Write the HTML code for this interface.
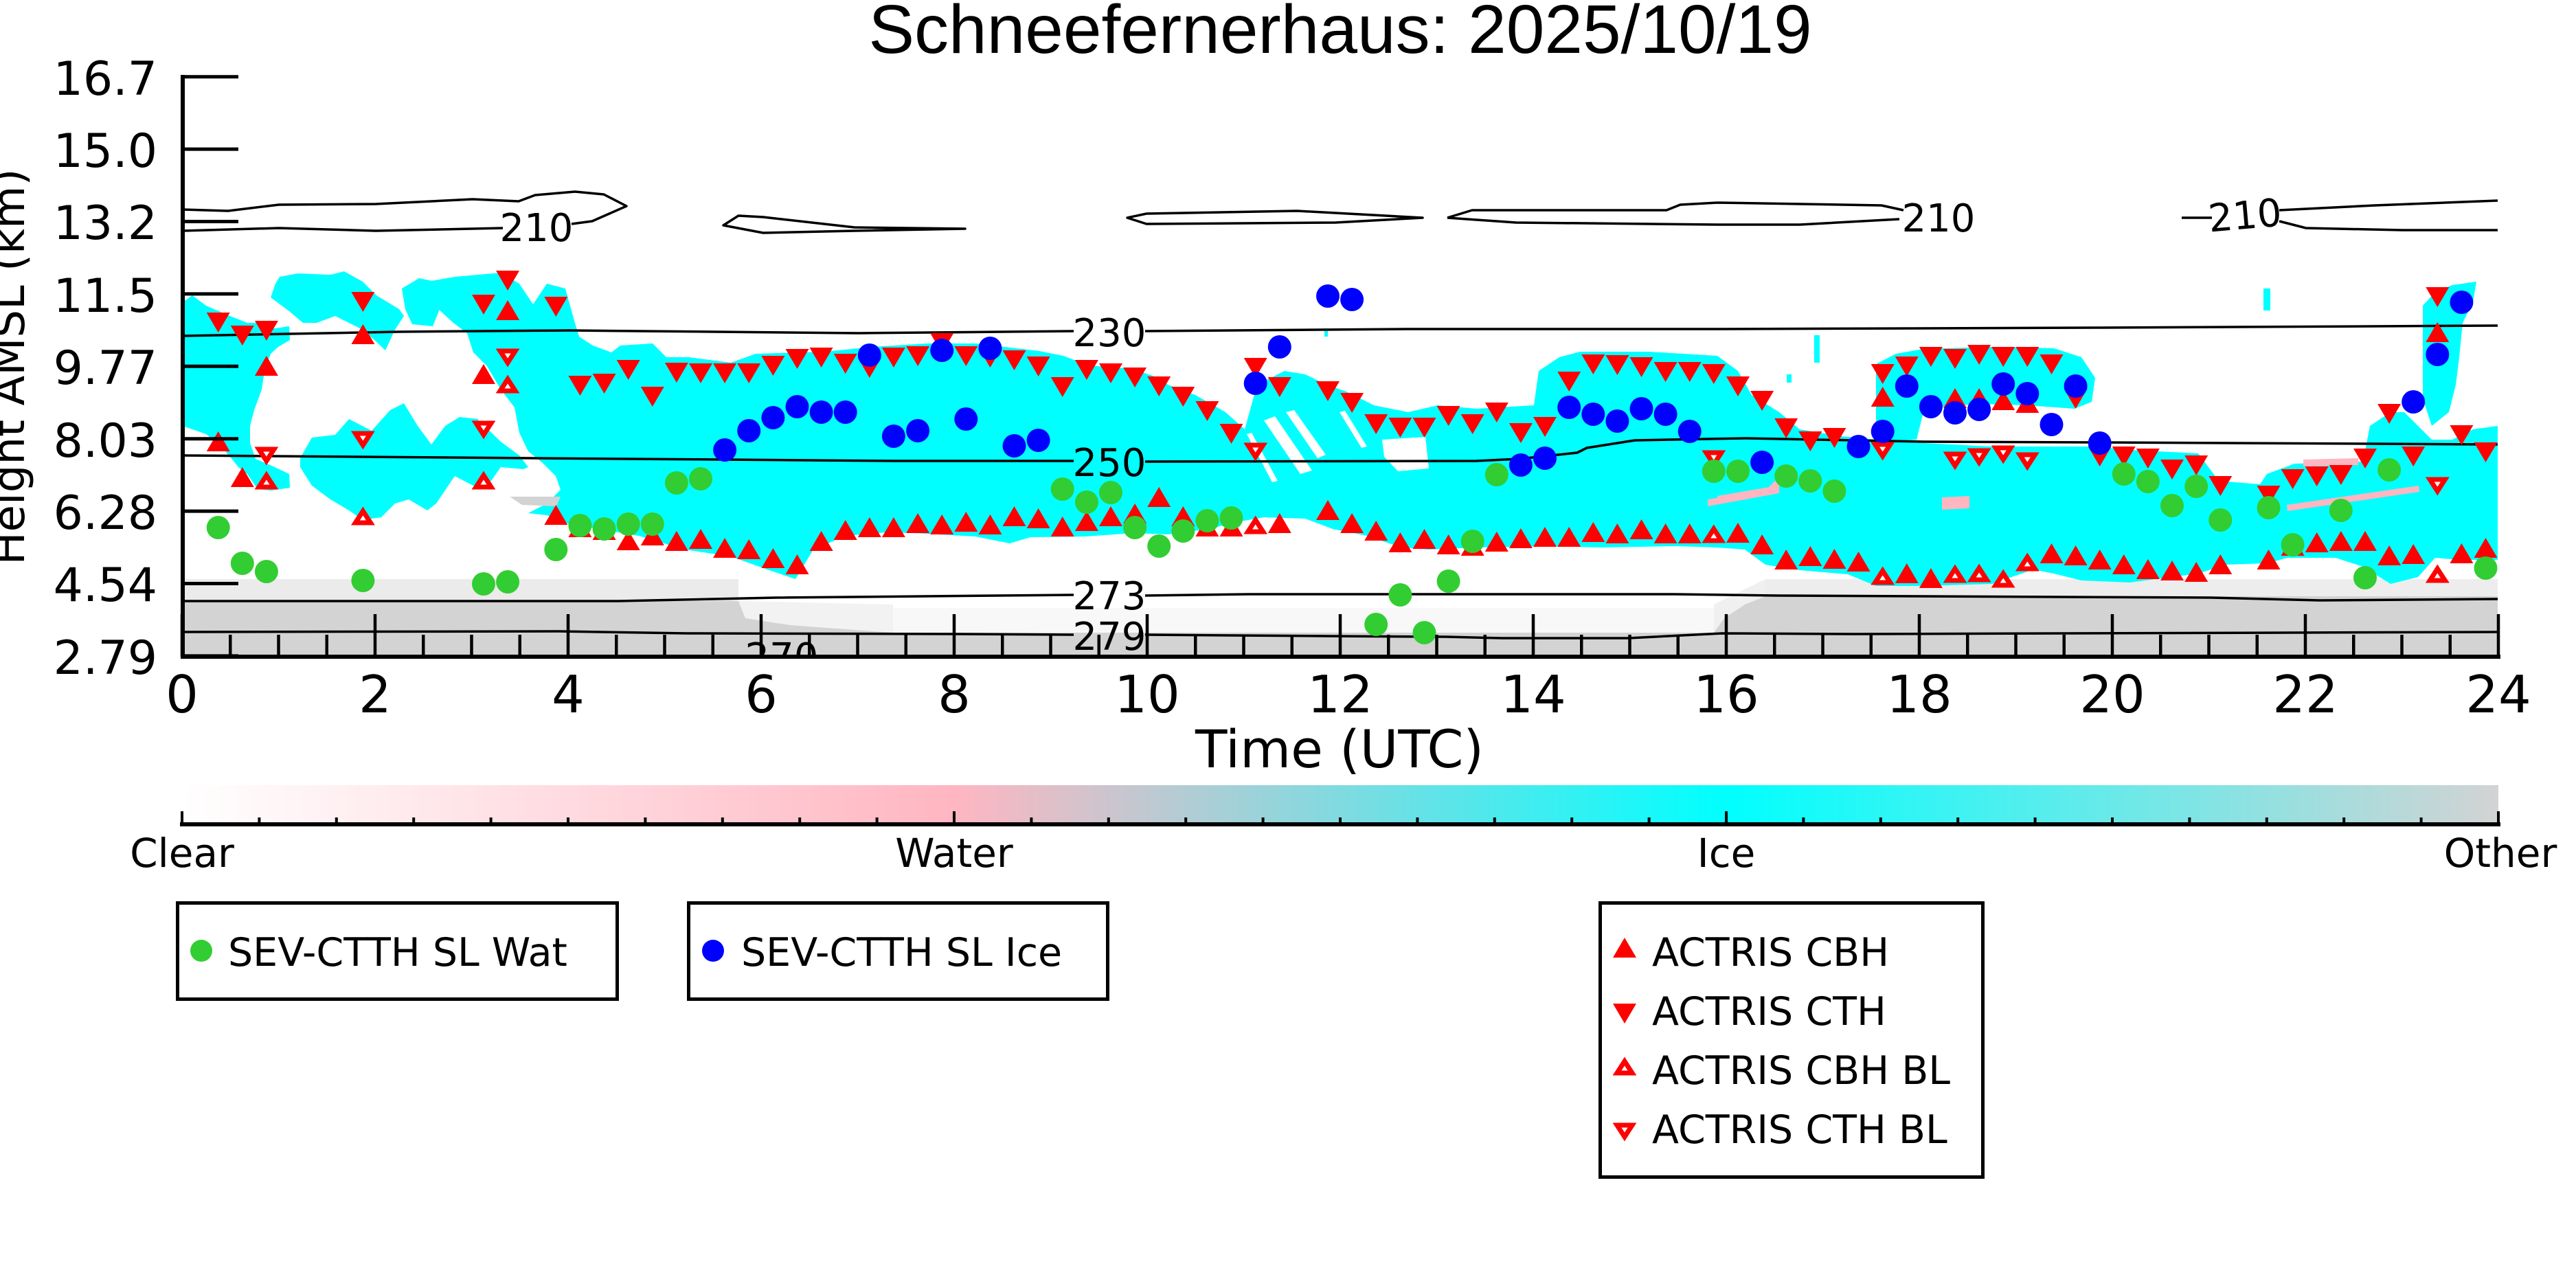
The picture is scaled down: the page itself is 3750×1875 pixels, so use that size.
<!DOCTYPE html>
<html><head><meta charset="utf-8">
<style>html,body{margin:0;padding:0;background:#fff}svg{display:block}</style>
</head><body>
<svg width="3750" height="1875" viewBox="0 0 3750 1875" xmlns="http://www.w3.org/2000/svg">
<defs>
<clipPath id="pc"><rect x="266" y="60" width="3371" height="896"/></clipPath>
<linearGradient id="cb" x1="0" x2="1" y1="0" y2="0">
<stop offset="0" stop-color="#ffffff"/><stop offset="0.3333" stop-color="#ffb6c1"/><stop offset="0.6667" stop-color="#00ffff"/><stop offset="1" stop-color="#d3d3d3"/>
</linearGradient>
<path id="tu" d="M0,-15L17,14L-17,14Z" fill="#ff0000"/>
<path id="td" d="M0,15L17,-14L-17,-14Z" fill="#ff0000"/>
<path id="tuo" d="M0,-8L11,9L-11,9Z" fill="#ffffff" stroke="#ff0000" stroke-width="7"/>
<path id="tdo" d="M0,8L11,-9L-11,-9Z" fill="#ffffff" stroke="#ff0000" stroke-width="7"/>
<circle id="cg" r="17" fill="#32cd32"/>
<circle id="cbl" r="17" fill="#0000ff"/>
</defs>

<rect width="3750" height="1875" fill="#fff"/>

<text x="1951" y="77" font-family="Liberation Sans, Arial, sans-serif" font-size="100" text-anchor="middle">Schneefernerhaus: 2025/10/19</text>

<g clip-path="url(#pc)">
<!-- gray ground clutter -->
<path d="M266,875 L1075,875 L1085,900 L1150,910 L1300,921 L2495,921 L2510,900 L2540,880 L2570,868 L3636,868 L3636,956 L266,956 Z" fill="#d3d3d3"/>
<rect x="266" y="843" width="809" height="32" fill="#d3d3d3" opacity="0.45"/>
<path d="M1075,875 L1300,880 L1300,921 L1150,910 L1085,900 Z" fill="#d3d3d3" opacity="0.3"/>
<rect x="1300" y="885" width="1195" height="36" fill="#d3d3d3" opacity="0.15"/>
<rect x="2570" y="843" width="1066" height="25" fill="#d3d3d3" opacity="0.4"/>
<path d="M2495,880 L2570,843 L2570,868 L2540,880 L2510,900 L2495,921 Z" fill="#d3d3d3" opacity="0.35"/>

<!-- cyan cloud regions -->
<g fill="#00ffff">
<path d="M266,440 L280,430 L300,445 L330,458 L360,470 L380,470 L400,478 L421,475 L422,495 L405,505 L394,515 L385,540 L381,567 L370,597 L364,620 L364,645 L372,668 L400,680 L421,690 L422,710 L395,714 L375,712 L360,690 L347,680 L335,665 L320,648 L300,632 L280,625 L266,620 Z"/>
<path d="M394,433 L401,413 L407,403 L434,398 L481,400 L501,395 L528,410 L548,430 L581,450 L588,460 L575,480 L561,510 L545,495 L528,480 L488,460 L461,470 L441,470 L421,453 Z"/>
<path d="M585,420 L610,405 L635,410 L640,450 L630,475 L600,472 L590,450 Z"/>
<path d="M437,667 L454,637 L488,633 L508,610 L541,627 L568,597 L588,587 L608,620 L628,647 L648,620 L669,607 L695,610 L729,643 L756,663 L769,680 L762,683 L729,680 L715,700 L689,707 L662,693 L635,733 L622,743 L595,727 L575,733 L555,753 L528,757 L508,743 L481,727 L454,707 L437,680 Z"/>
<path d="M622,410 L662,403 L695,400 L729,397 L756,413 L776,443 L796,413 L823,420 L836,467 L843,490 L863,503 L890,513 L903,503 L950,500 L970,520 L1003,520 L1064,528 L1100,515 L1200,512 L1270,505 L1350,500 L1420,500 L1513,511 L1548,518 L1585,532 L1649,537 L1689,551 L1700,560 L1740,575 L1784,600 L1812,625 L1830,560 L1870,540 L1900,545 L1931,560 L1960,570 L2000,590 L2050,600 L2093,590 L2150,595 L2233,590 L2240,540 L2270,520 L2300,512 L2400,512 L2500,518 L2530,540 L2550,575 L2590,600 L2620,625 L2680,635 L2731,640 L2800,645 L2900,650 L3050,650 L3100,655 L3200,660 L3230,700 L3290,705 L3300,690 L3340,675 L3440,672 L3450,620 L3480,600 L3500,600 L3520,620 L3540,640 L3570,640 L3600,625 L3636,620 L3636,815 L3580,815 L3545,812 L3520,840 L3480,850 L3440,825 L3400,812 L3330,812 L3300,820 L3240,822 L3200,835 L3100,848 L3030,845 L2990,835 L2960,829 L2900,850 L2800,853 L2731,853 L2690,836 L2620,830 L2570,822 L2540,800 L2500,797 L2440,795 L2330,797 L2250,795 L2150,797 L2080,800 L2040,797 L1990,780 L1940,770 L1900,755 L1840,753 L1800,760 L1760,770 L1700,778 L1650,776 L1580,781 L1500,782 L1470,791 L1420,781 L1330,776 L1290,775 L1231,780 L1184,800 L1158,843 L1111,827 L1064,810 L997,800 L930,780 L829,763 L796,750 L769,747 L796,733 L816,713 L809,693 L789,673 L769,657 L756,630 L749,593 L729,567 L709,533 L689,513 L680,485 L660,470 L635,447 Z"/>
<path d="M2731,530 L2760,515 L2800,508 L2900,505 L2990,507 L3030,520 L3050,550 L3045,585 L3020,595 L2950,590 L2880,588 L2830,592 L2800,600 L2790,640 L2731,645 Z"/>
<path d="M3527,445 L3545,425 L3570,415 L3605,410 L3600,440 L3585,470 L3580,520 L3575,560 L3565,600 L3540,620 L3527,580 Z"/>
<rect x="3295" y="420" width="10" height="32"/>
<rect x="2641" y="488" width="8" height="40"/>
<rect x="2601" y="545" width="7" height="12"/>
<rect x="1928" y="478" width="5" height="12"/>
</g>
<!-- white gaps -->
<g fill="#fff">
<path d="M1840,612 L1856,606 L1910,685 L1893,690 Z"/>
<path d="M1872,600 L1884,597 L1930,662 L1918,667 Z"/>
<path d="M1815,632 L1822,630 L1860,700 L1852,702 Z"/>
<path d="M1950,600 L1958,598 L1990,650 L1982,652 Z"/>
<path d="M2012,640 L2075,636 L2080,682 L2035,686 L2015,665 Z"/>
</g>
<!-- pink patches -->
<g fill="#ffb6c1">
<path d="M2500,722 L2588,707 L2590,716 L2500,731 Z"/>
<path d="M2486,727 L2570,714 L2584,700 L2590,700 L2590,718 L2486,737 Z"/>
<path d="M3329,735 L3521,707 L3522,716 L3330,744 Z"/>
<path d="M2827,724 L2867,722 L2867,740 L2827,742 Z"/>
<path d="M3353,669 L3433,667 L3433,677 L3353,679 Z"/>
</g>
<path d="M742,723 L816,723 L810,737 L760,735 Z" fill="#d3d3d3"/>

<!-- contours -->
<g fill="none" stroke="#000" stroke-width="3.5" stroke-linejoin="round">
<path d="M266,305 L332,307 L406,298 L547,297 L688,290 L755,293 L779,284 L837,279 L879,283 L912,300 L862,322 L832,326"/>
<path d="M732,332 L547,336 L406,332 L266,336"/>
<path d="M1053,328 L1075,314 L1111,316 L1244,331 L1405,333 L1244,336 L1111,339 Z"/>
<path d="M1641,317 L1669,311 L1888,307 L2071,317 L1944,324 L1669,326 Z"/>
<path d="M2107,317 L2143,306 L2426,306 L2446,298 L2500,295 L2739,299 L2771,306"/>
<path d="M2107,317 L2207,324 L2500,327 L2620,327 L2765,319"/>
<path d="M3176,317 L3220,317"/>
<path d="M3318,306 L3457,299 L3636,292"/>
<path d="M3318,322 L3357,332 L3497,335 L3636,335"/>
<path d="M266,489 L580,483 L829,481 L1250,485 L1563,482"/>
<path d="M1667,482 L2047,479 L2500,479 L3058,477 L3636,474"/>
<path d="M266,663 L1300,671 L1563,671"/>
<path d="M1667,672 L2149,671 L2212,668 L2296,659 L2310,652 L2380,641 L2542,638 L2800,643 L3058,644 L3636,647"/>
<path d="M266,875 L900,875 L1130,870 L1563,866"/>
<path d="M1667,867 L1818,865 L2438,865 L2588,867 L3218,870 L3377,874 L3636,872"/>
<path d="M266,920 L813,919 L1000,922 L1400,923 L1563,924"/>
<path d="M1667,924 L1935,926 L2105,927 L2187,929 L2370,929 L2507,922 L2700,923 L3636,920"/>
</g>
<g font-family="DejaVu Sans, sans-serif" font-size="56" text-anchor="middle" fill="#000">
<text x="781" y="351">210</text>
<text x="2822" y="337">210</text>
<text x="3268" y="333" transform="rotate(-5 3268 313)">210</text>
<text x="1615" y="504">230</text>
<text x="1615" y="693">250</text>
<text x="1615" y="887">273</text>
<text x="1615" y="946">279</text>
<text x="1138" y="976">270</text>
</g>
</g>

<!-- ACTRIS CTH -->
<g>
<use href="#td" x="317.7" y="469"/><use href="#td" x="352.8" y="488"/><use href="#td" x="387.9" y="481"/><use href="#td" x="528.4" y="439"/><use href="#td" x="704.0" y="443"/><use href="#td" x="739.1" y="408"/><use href="#td" x="809.3" y="446"/><use href="#td" x="844.4" y="561"/><use href="#td" x="879.6" y="558"/><use href="#td" x="914.7" y="538"/><use href="#td" x="949.8" y="577"/><use href="#td" x="984.9" y="542"/><use href="#td" x="1020.0" y="543"/><use href="#td" x="1055.1" y="543"/><use href="#td" x="1090.2" y="543"/><use href="#td" x="1125.4" y="532"/><use href="#td" x="1160.5" y="522"/><use href="#td" x="1195.6" y="520"/><use href="#td" x="1230.7" y="529"/><use href="#td" x="1265.8" y="535"/><use href="#td" x="1300.9" y="520"/><use href="#td" x="1336.1" y="518"/><use href="#td" x="1371.2" y="499"/><use href="#td" x="1406.3" y="518"/><use href="#td" x="1441.4" y="520"/><use href="#td" x="1476.5" y="524"/><use href="#td" x="1511.6" y="533"/><use href="#td" x="1546.7" y="563"/><use href="#td" x="1581.9" y="538"/><use href="#td" x="1617.0" y="543"/><use href="#td" x="1652.1" y="549"/><use href="#td" x="1687.2" y="562"/><use href="#td" x="1722.3" y="577"/><use href="#td" x="1757.4" y="598"/><use href="#td" x="1792.5" y="631"/><use href="#td" x="1827.7" y="535"/><use href="#td" x="1862.8" y="563"/><use href="#td" x="1933.0" y="569"/><use href="#td" x="1968.1" y="586"/><use href="#td" x="2003.2" y="617"/><use href="#td" x="2038.4" y="622"/><use href="#td" x="2073.5" y="622"/><use href="#td" x="2108.6" y="605"/><use href="#td" x="2143.7" y="617"/><use href="#td" x="2178.8" y="600"/><use href="#td" x="2213.9" y="630"/><use href="#td" x="2249.0" y="621"/><use href="#td" x="2284.2" y="555"/><use href="#td" x="2319.3" y="530"/><use href="#td" x="2354.4" y="531"/><use href="#td" x="2389.5" y="534"/><use href="#td" x="2424.6" y="541"/><use href="#td" x="2459.7" y="541"/><use href="#td" x="2494.8" y="544"/><use href="#td" x="2530.0" y="562"/><use href="#td" x="2565.1" y="583"/><use href="#td" x="2600.2" y="623"/><use href="#td" x="2635.3" y="642"/><use href="#td" x="2670.4" y="637"/><use href="#td" x="2740.7" y="544"/><use href="#td" x="2775.8" y="533"/><use href="#td" x="2810.9" y="519"/><use href="#td" x="2846.0" y="522"/><use href="#td" x="2881.1" y="516"/><use href="#td" x="2916.2" y="519"/><use href="#td" x="2951.3" y="519"/><use href="#td" x="2986.5" y="530"/><use href="#td" x="3021.6" y="580"/><use href="#td" x="3056.7" y="664"/><use href="#td" x="3091.8" y="664"/><use href="#td" x="3126.9" y="667"/><use href="#td" x="3162.0" y="683"/><use href="#td" x="3197.2" y="677"/><use href="#td" x="3232.3" y="707"/><use href="#td" x="3302.5" y="721"/><use href="#td" x="3337.6" y="697"/><use href="#td" x="3372.7" y="693"/><use href="#td" x="3407.8" y="691"/><use href="#td" x="3443.0" y="667"/><use href="#td" x="3478.1" y="602"/><use href="#td" x="3513.2" y="664"/><use href="#td" x="3548.3" y="432"/><use href="#td" x="3583.4" y="633"/><use href="#td" x="3618.5" y="658"/>
</g>
<!-- ACTRIS CBH -->
<g>
<use href="#tu" x="317.7" y="643"/><use href="#tu" x="352.8" y="695"/><use href="#tu" x="387.9" y="533"/><use href="#tu" x="528.4" y="487"/><use href="#tu" x="704.0" y="545"/><use href="#tu" x="739.1" y="452"/><use href="#tu" x="809.3" y="750"/><use href="#tu" x="844.4" y="768"/><use href="#tu" x="879.6" y="772"/><use href="#tu" x="914.7" y="787"/><use href="#tu" x="949.8" y="780"/><use href="#tu" x="984.9" y="788"/><use href="#tu" x="1020.0" y="785"/><use href="#tu" x="1055.1" y="798"/><use href="#tu" x="1090.2" y="800"/><use href="#tu" x="1125.4" y="813"/><use href="#tu" x="1160.5" y="822"/><use href="#tu" x="1195.6" y="788"/><use href="#tu" x="1230.7" y="772"/><use href="#tu" x="1265.8" y="768"/><use href="#tu" x="1300.9" y="768"/><use href="#tu" x="1336.1" y="762"/><use href="#tu" x="1371.2" y="764"/><use href="#tu" x="1406.3" y="760"/><use href="#tu" x="1441.4" y="764"/><use href="#tu" x="1476.5" y="752"/><use href="#tu" x="1511.6" y="755"/><use href="#tu" x="1546.7" y="767"/><use href="#tu" x="1581.9" y="759"/><use href="#tu" x="1617.0" y="752"/><use href="#tu" x="1652.1" y="748"/><use href="#tu" x="1687.2" y="724"/><use href="#tu" x="1722.3" y="752"/><use href="#tu" x="1757.4" y="767"/><use href="#tu" x="1792.5" y="767"/><use href="#tu" x="1862.8" y="762"/><use href="#tu" x="1933.0" y="743"/><use href="#tu" x="1968.1" y="762"/><use href="#tu" x="2003.2" y="773"/><use href="#tu" x="2038.4" y="790"/><use href="#tu" x="2073.5" y="785"/><use href="#tu" x="2108.6" y="793"/><use href="#tu" x="2143.7" y="795"/><use href="#tu" x="2178.8" y="789"/><use href="#tu" x="2213.9" y="784"/><use href="#tu" x="2249.0" y="782"/><use href="#tu" x="2284.2" y="782"/><use href="#tu" x="2319.3" y="775"/><use href="#tu" x="2354.4" y="777"/><use href="#tu" x="2389.5" y="771"/><use href="#tu" x="2424.6" y="777"/><use href="#tu" x="2459.7" y="777"/><use href="#tu" x="2530.0" y="776"/><use href="#tu" x="2565.1" y="793"/><use href="#tu" x="2600.2" y="815"/><use href="#tu" x="2635.3" y="810"/><use href="#tu" x="2670.4" y="814"/><use href="#tu" x="2705.5" y="818"/><use href="#tu" x="2740.7" y="578"/><use href="#tu" x="2775.8" y="835"/><use href="#tu" x="2810.9" y="842"/><use href="#tu" x="2846.0" y="580"/><use href="#tu" x="2881.1" y="580"/><use href="#tu" x="2916.2" y="583"/><use href="#tu" x="2951.3" y="587"/><use href="#tu" x="2986.5" y="806"/><use href="#tu" x="3021.6" y="809"/><use href="#tu" x="3056.7" y="815"/><use href="#tu" x="3091.8" y="822"/><use href="#tu" x="3126.9" y="829"/><use href="#tu" x="3162.0" y="831"/><use href="#tu" x="3197.2" y="833"/><use href="#tu" x="3232.3" y="822"/><use href="#tu" x="3302.5" y="815"/><use href="#tu" x="3337.6" y="795"/><use href="#tu" x="3372.7" y="790"/><use href="#tu" x="3407.8" y="788"/><use href="#tu" x="3443.0" y="788"/><use href="#tu" x="3478.1" y="809"/><use href="#tu" x="3513.2" y="807"/><use href="#tu" x="3548.3" y="484"/><use href="#tu" x="3583.4" y="806"/><use href="#tu" x="3618.5" y="798"/>
</g>
<!-- ACTRIS BL -->
<g>
<use href="#tdo" x="387.9" y="663"/><use href="#tdo" x="528.4" y="640"/><use href="#tdo" x="704.0" y="625"/><use href="#tdo" x="739.1" y="520"/><use href="#tdo" x="1827.7" y="657"/><use href="#tdo" x="2494.8" y="668"/><use href="#tdo" x="2740.7" y="656"/><use href="#tdo" x="2846.0" y="670"/><use href="#tdo" x="2881.1" y="665"/><use href="#tdo" x="2916.2" y="661"/><use href="#tdo" x="2951.3" y="671"/><use href="#tdo" x="3548.3" y="707"/>
<use href="#tuo" x="387.9" y="700"/><use href="#tuo" x="528.4" y="752"/><use href="#tuo" x="704.0" y="700"/><use href="#tuo" x="739.1" y="560"/><use href="#tuo" x="1827.7" y="765"/><use href="#tuo" x="2494.8" y="778"/><use href="#tuo" x="2740.7" y="839"/><use href="#tuo" x="2846.0" y="836"/><use href="#tuo" x="2881.1" y="835"/><use href="#tuo" x="2916.2" y="843"/><use href="#tuo" x="2951.3" y="819"/><use href="#tuo" x="3548.3" y="836"/>
</g>
<!-- SEV water -->
<g>
<use href="#cg" x="317.7" y="768"/><use href="#cg" x="352.8" y="820"/><use href="#cg" x="387.9" y="832"/><use href="#cg" x="528.4" y="845"/><use href="#cg" x="704.0" y="850"/><use href="#cg" x="739.1" y="847"/><use href="#cg" x="809.3" y="800"/><use href="#cg" x="844.4" y="765"/><use href="#cg" x="879.6" y="770"/><use href="#cg" x="914.7" y="763"/><use href="#cg" x="949.8" y="763"/><use href="#cg" x="984.9" y="703"/><use href="#cg" x="1020.0" y="697"/><use href="#cg" x="1546.7" y="712"/><use href="#cg" x="1581.9" y="731"/><use href="#cg" x="1617.0" y="717"/><use href="#cg" x="1652.1" y="768"/><use href="#cg" x="1687.2" y="795"/><use href="#cg" x="1722.3" y="773"/><use href="#cg" x="1757.4" y="758"/><use href="#cg" x="1792.5" y="754"/><use href="#cg" x="2003.2" y="909"/><use href="#cg" x="2038.4" y="866"/><use href="#cg" x="2073.5" y="921"/><use href="#cg" x="2108.6" y="846"/><use href="#cg" x="2143.7" y="788"/><use href="#cg" x="2178.8" y="691"/><use href="#cg" x="2494.8" y="686"/><use href="#cg" x="2530.0" y="686"/><use href="#cg" x="2600.2" y="693"/><use href="#cg" x="2635.3" y="700"/><use href="#cg" x="2670.4" y="715"/><use href="#cg" x="3091.8" y="690"/><use href="#cg" x="3126.9" y="701"/><use href="#cg" x="3162.0" y="736"/><use href="#cg" x="3197.2" y="708"/><use href="#cg" x="3232.3" y="757"/><use href="#cg" x="3302.5" y="739"/><use href="#cg" x="3337.6" y="793"/><use href="#cg" x="3407.8" y="743"/><use href="#cg" x="3443.0" y="841"/><use href="#cg" x="3478.1" y="684"/><use href="#cg" x="3618.5" y="827"/>
</g>
<!-- SEV ice -->
<g>
<use href="#cbl" x="1055.1" y="655"/><use href="#cbl" x="1090.2" y="627"/><use href="#cbl" x="1125.4" y="608"/><use href="#cbl" x="1160.5" y="592"/><use href="#cbl" x="1195.6" y="600"/><use href="#cbl" x="1230.7" y="600"/><use href="#cbl" x="1265.8" y="517"/><use href="#cbl" x="1300.9" y="635"/><use href="#cbl" x="1336.1" y="627"/><use href="#cbl" x="1371.2" y="510"/><use href="#cbl" x="1406.3" y="610"/><use href="#cbl" x="1441.4" y="507"/><use href="#cbl" x="1476.5" y="649"/><use href="#cbl" x="1511.6" y="641"/><use href="#cbl" x="1827.7" y="558"/><use href="#cbl" x="1862.8" y="505"/><use href="#cbl" x="1933.0" y="431"/><use href="#cbl" x="1968.1" y="436"/><use href="#cbl" x="2213.9" y="677"/><use href="#cbl" x="2249.0" y="667"/><use href="#cbl" x="2284.2" y="593"/><use href="#cbl" x="2319.3" y="603"/><use href="#cbl" x="2354.4" y="613"/><use href="#cbl" x="2389.5" y="595"/><use href="#cbl" x="2424.6" y="603"/><use href="#cbl" x="2459.7" y="628"/><use href="#cbl" x="2565.1" y="673"/><use href="#cbl" x="2705.5" y="650"/><use href="#cbl" x="2740.7" y="628"/><use href="#cbl" x="2775.8" y="562"/><use href="#cbl" x="2810.9" y="592"/><use href="#cbl" x="2846.0" y="601"/><use href="#cbl" x="2881.1" y="596"/><use href="#cbl" x="2916.2" y="559"/><use href="#cbl" x="2951.3" y="573"/><use href="#cbl" x="2986.5" y="618"/><use href="#cbl" x="3021.6" y="562"/><use href="#cbl" x="3056.7" y="645"/><use href="#cbl" x="3513.2" y="585"/><use href="#cbl" x="3548.3" y="516"/><use href="#cbl" x="3583.4" y="440"/>
</g>

<!-- axes -->
<g stroke="#000" fill="none">
<line x1="266" y1="109" x2="266" y2="959" stroke-width="6"/>
<line x1="263" y1="956" x2="3640" y2="956" stroke-width="6"/>
<path stroke-width="5" d="M266,111.7H347 M266,217.1H347 M266,322.5H347 M266,427.9H347 M266,533.3H347 M266,638.7H347 M266,744.1H347 M266,849.5H347 M266,954.9H347"/>
<path stroke-width="4.5" d="M265,956V894 M546,956V894 M827,956V894 M1108,956V894 M1389,956V894 M1670,956V894 M1951,956V894 M2232,956V894 M2513,956V894 M2794,956V894 M3075,956V894 M3356,956V894 M3637,956V894"/>
<path stroke-width="4.5" d="M335.25,956V924 M405.5,956V924 M475.75,956V924 M616.25,956V924 M686.5,956V924 M756.75,956V924 M897.25,956V924 M967.5,956V924 M1037.75,956V924 M1178.25,956V924 M1248.5,956V924 M1318.75,956V924 M1459.25,956V924 M1529.5,956V924 M1599.75,956V924 M1740.25,956V924 M1810.5,956V924 M1880.75,956V924 M2021.25,956V924 M2091.5,956V924 M2161.75,956V924 M2302.25,956V924 M2372.5,956V924 M2442.75,956V924 M2583.25,956V924 M2653.5,956V924 M2723.75,956V924 M2864.25,956V924 M2934.5,956V924 M3004.75,956V924 M3145.25,956V924 M3215.5,956V924 M3285.75,956V924 M3426.25,956V924 M3496.5,956V924 M3566.75,956V924"/>
</g>

<g font-family="DejaVu Sans, sans-serif" font-size="68" text-anchor="end" fill="#000">
<text x="229" y="138">16.7</text>
<text x="229" y="243">15.0</text>
<text x="229" y="348">13.2</text>
<text x="229" y="454">11.5</text>
<text x="229" y="559">9.77</text>
<text x="229" y="665">8.03</text>
<text x="229" y="770">6.28</text>
<text x="229" y="875">4.54</text>
<text x="229" y="981">2.79</text>
</g>
<g font-family="DejaVu Sans, sans-serif" font-size="75" text-anchor="middle" fill="#000">
<text x="265" y="1037">0</text><text x="546" y="1037">2</text><text x="827" y="1037">4</text><text x="1108" y="1037">6</text><text x="1389" y="1037">8</text><text x="1670" y="1037">10</text><text x="1951" y="1037">12</text><text x="2232" y="1037">14</text><text x="2513" y="1037">16</text><text x="2794" y="1037">18</text><text x="3075" y="1037">20</text><text x="3356" y="1037">22</text><text x="3637" y="1037">24</text>
</g>
<text x="1950" y="1117" font-family="DejaVu Sans, sans-serif" font-size="76" text-anchor="middle">Time (UTC)</text>
<text transform="translate(35,534) rotate(-90)" font-family="DejaVu Sans, sans-serif" font-size="64" text-anchor="middle">Height AMSL (km)</text>

<!-- colorbar -->
<rect x="265" y="1143" width="3372" height="56" fill="url(#cb)"/>
<line x1="262" y1="1200" x2="3640" y2="1200" stroke="#000" stroke-width="6"/>
<path stroke="#000" stroke-width="4" d="M265,1200V1181 M1389,1200V1181 M2513,1200V1181 M3637,1200V1181 M377.4,1200V1190 M489.8,1200V1190 M602.2,1200V1190 M714.6,1200V1190 M827,1200V1190 M939.4,1200V1190 M1051.8,1200V1190 M1164.2,1200V1190 M1276.6,1200V1190 M1501.4,1200V1190 M1613.8,1200V1190 M1726.2,1200V1190 M1838.6,1200V1190 M1951,1200V1190 M2063.4,1200V1190 M2175.8,1200V1190 M2288.2,1200V1190 M2400.6,1200V1190 M2625.4,1200V1190 M2737.8,1200V1190 M2850.2,1200V1190 M2962.6,1200V1190 M3075,1200V1190 M3187.4,1200V1190 M3299.8,1200V1190 M3412.2,1200V1190 M3524.6,1200V1190"/>
<g font-family="DejaVu Sans, sans-serif" font-size="58" text-anchor="middle" fill="#000">
<text x="265" y="1262">Clear</text><text x="1389" y="1262">Water</text><text x="2513" y="1262">Ice</text><text x="3640" y="1262">Other</text>
</g>

<!-- legends -->
<g font-family="DejaVu Sans, sans-serif" font-size="57" fill="#000">
<rect x="258.5" y="1314.5" width="640" height="140" fill="#fff" stroke="#000" stroke-width="5"/>
<circle cx="293" cy="1384" r="16" fill="#32cd32"/>
<text x="332" y="1406">SEV-CTTH SL Wat</text>
<rect x="1002.5" y="1314.5" width="610" height="140" fill="#fff" stroke="#000" stroke-width="5"/>
<circle cx="1038" cy="1384" r="16" fill="#0000ff"/>
<text x="1079" y="1406">SEV-CTTH SL Ice</text>
<rect x="2329.5" y="1314.5" width="557" height="399" fill="#fff" stroke="#000" stroke-width="5"/>
<use href="#tu" x="2365" y="1380"/>
<text x="2405" y="1406">ACTRIS CBH</text>
<use href="#td" x="2365" y="1475"/>
<text x="2405" y="1492">ACTRIS CTH</text>
<use href="#tuo" x="2365" y="1553"/>
<text x="2405" y="1578">ACTRIS CBH BL</text>
<use href="#tdo" x="2365" y="1647"/>
<text x="2405" y="1664">ACTRIS CTH BL</text>
</g>
</svg>
</body></html>
